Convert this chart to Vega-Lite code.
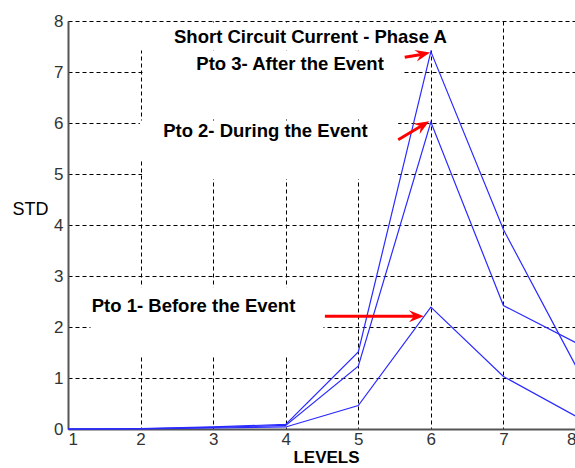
{
  "$schema": "https://vega.github.io/schema/vega-lite/v6.json",
  "width": 508,
  "height": 408,
  "autosize": {"type": "none"},
  "padding": {"left": 68, "top": 21, "right": 0, "bottom": 39},
  "background": "white",
  "config": {"view": {"stroke": null}, "font": "Liberation Sans"},
  "datasets": {
    "series": [
      {"level": 1, "std": 0, "point": "Pto 1"},
      {"level": 2, "std": 0, "point": "Pto 1"},
      {"level": 3, "std": 0.02, "point": "Pto 1"},
      {"level": 4, "std": 0.04, "point": "Pto 1"},
      {"level": 5, "std": 0.46, "point": "Pto 1"},
      {"level": 6, "std": 2.39, "point": "Pto 1"},
      {"level": 7, "std": 1.03, "point": "Pto 1"},
      {"level": 8, "std": 0.25, "point": "Pto 1"},
      {"level": 1, "std": 0, "point": "Pto 2"},
      {"level": 2, "std": 0.005, "point": "Pto 2"},
      {"level": 3, "std": 0.03, "point": "Pto 2"},
      {"level": 4, "std": 0.07, "point": "Pto 2"},
      {"level": 5, "std": 1.23, "point": "Pto 2"},
      {"level": 6, "std": 6.02, "point": "Pto 2"},
      {"level": 7, "std": 2.42, "point": "Pto 2"},
      {"level": 8, "std": 1.69, "point": "Pto 2"},
      {"level": 1, "std": 0, "point": "Pto 3"},
      {"level": 2, "std": 0.01, "point": "Pto 3"},
      {"level": 3, "std": 0.04, "point": "Pto 3"},
      {"level": 4, "std": 0.09, "point": "Pto 3"},
      {"level": 5, "std": 1.51, "point": "Pto 3"},
      {"level": 6, "std": 7.40, "point": "Pto 3"},
      {"level": 7, "std": 3.91, "point": "Pto 3"},
      {"level": 8, "std": 1.23, "point": "Pto 3"}
    ],
    "masks": [
      {"x1": 1.95, "x2": 6.1, "y1": 7.97, "y2": 7.42},
      {"x1": 2.05, "x2": 5.6, "y1": 7.42, "y2": 6.08},
      {"x1": 1.99, "x2": 5.55, "y1": 6.05, "y2": 5.28},
      {"x1": 2.02, "x2": 5.55, "y1": 5.28, "y2": 4.9},
      {"x1": 1.31, "x2": 4.52, "y1": 2.78, "y2": 1.42}
    ],
    "labels": [
      {"text": "Short Circuit Current - Phase A", "x": 4.34, "y": 7.69},
      {"text": "Pto 3- After the Event", "x": 4.06, "y": 7.16},
      {"text": "Pto 2- During the Event", "x": 3.72, "y": 5.85},
      {"text": "Pto 1- Before the Event", "x": 2.73, "y": 2.42}
    ],
    "arrows": [
      {"x1": 4.54, "y1": 2.21, "x2": 5.8, "y2": 2.21, "angle": 0},
      {"x1": 5.55, "y1": 5.67, "x2": 5.89, "y2": 5.96, "angle": 329},
      {"x1": 5.64, "y1": 7.29, "x2": 5.89, "y2": 7.35, "angle": 348}
    ]
  },
  "layer": [
    {
      "data": {"name": "masks"},
      "mark": {"type": "rect", "color": "white"},
      "encoding": {
        "x": {"field": "x1", "type": "quantitative", "scale": {"domain": [1, 8], "nice": false, "zero": false},
          "axis": {"values": [1, 2, 3, 4, 5, 6, 7, 8], "format": "d", "grid": true, "gridDash": [4, 3], "gridColor": "#000", "gridOpacity": 1, "gridWidth": 1,
            "domainColor": "#555", "domainWidth": 2, "ticks": false, "labelFontSize": 17, "labelColor": "#333", "labelPadding": 2,
            "title": "LEVELS", "titleFontSize": 17, "titleFontWeight": "bold", "titleColor": "#000", "titleX": 258, "titleY": 28, "titleBaseline": "middle", "titleAlign": "center"}},
        "x2": {"field": "x2"},
        "y": {"field": "y1", "type": "quantitative", "scale": {"domain": [0, 8], "nice": false, "zero": true},
          "axis": {"values": [0, 1, 2, 3, 4, 5, 6, 7, 8], "format": "d", "grid": true, "gridDash": [4, 3], "gridColor": "#000", "gridOpacity": 1, "gridWidth": 1,
            "domainColor": "#555", "domainWidth": 2, "ticks": false, "labelFontSize": 17, "labelColor": "#333", "labelPadding": 5,
            "title": "STD", "titleFontSize": 18, "titleFontWeight": "normal", "titleColor": "#000", "titleAngle": 0, "titleX": -38, "titleY": 188, "titleBaseline": "middle", "titleAlign": "center"}},
        "y2": {"field": "y2"}
      }
    },
    {
      "data": {"name": "series"},
      "mark": {"type": "line", "color": "#2a2aff", "strokeWidth": 1.2},
      "encoding": {
        "x": {"field": "level", "type": "quantitative"},
        "y": {"field": "std", "type": "quantitative"},
        "detail": {"field": "point"}
      }
    },
    {
      "data": {"name": "labels"},
      "mark": {"type": "text", "fontSize": 18.5, "fontWeight": "bold", "color": "#000", "align": "center", "baseline": "middle"},
      "encoding": {
        "x": {"field": "x", "type": "quantitative"},
        "y": {"field": "y", "type": "quantitative"},
        "text": {"field": "text"}
      }
    },
    {
      "data": {"name": "arrows"},
      "mark": {"type": "rule", "color": "#ff0000", "strokeWidth": 3},
      "encoding": {
        "x": {"field": "x1", "type": "quantitative"},
        "y": {"field": "y1", "type": "quantitative"},
        "x2": {"field": "x2"},
        "y2": {"field": "y2"}
      }
    },
    {
      "data": {"name": "arrows"},
      "mark": {"type": "point", "filled": true, "color": "#ff0000", "opacity": 1, "size": 220, "shape": "M-1,-0.8L1,0L-1,0.8L-0.3,0Z"},
      "encoding": {
        "x": {"field": "x2", "type": "quantitative"},
        "y": {"field": "y2", "type": "quantitative"},
        "angle": {"field": "angle", "type": "quantitative", "scale": null}
      }
    }
  ]
}
